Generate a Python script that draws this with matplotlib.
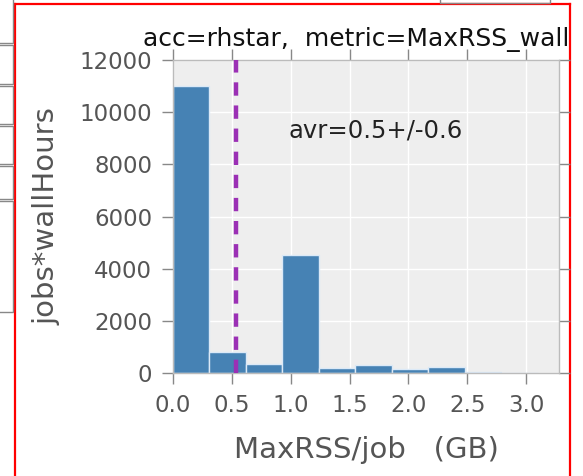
import matplotlib
matplotlib.use("Agg")
import matplotlib.pyplot as plt
from matplotlib.patches import Rectangle
import numpy as np

# Data
bin_edges = [0.0, 0.31, 0.62, 0.93, 1.24, 1.55, 1.86, 2.17, 2.48, 2.79, 3.10]
bin_heights = [11000, 820, 340, 4520, 180, 310, 140, 245, 55, 10]
mean_val = 0.533
title_text = "acc=rhstar,  metric=MaxRSS_wall"
note_text = "avr=0.5+/-0.6"
xticks = [0.0, 0.5, 1.0, 1.5, 2.0, 2.5, 3.0]
yticks = [0, 2000, 4000, 6000, 8000, 10000, 12000]

W, H = 583, 476
fig = plt.figure(figsize=(W / 100, H / 100), dpi=100)

def fx(px):
    return px / W

def fy(py):
    return 1 - py / H

# background frame axes (red border) used for clipping the title
frame = fig.add_axes([fx(15), 0.0, fx(570) - fx(15), fy(4)])
frame.set_xlim(0, 1)
frame.set_ylim(0, 1)
frame.set_xticks([])
frame.set_yticks([])
frame.patch.set_alpha(0)
for s in frame.spines.values():
    s.set_color("#ff0000")
    s.set_linewidth(1.6)
frame.spines["bottom"].set_visible(False)

# leftover boxes on the left edge
for (y0, y1) in [(-5, 43), (45, 84), (86, 124), (126, 164), (166, 199), (201, 312)]:
    r = Rectangle((fx(-20), fy(y1)), fx(33), fy(y0) - fy(y1), transform=fig.transFigure,
                  fill=False, edgecolor="#888888", linewidth=1.0)
    fig.patches.append(r)
r = Rectangle((fx(440), fy(3)), fx(110), fy(-10) - fy(3), transform=fig.transFigure,
              fill=False, edgecolor="#888888", linewidth=1.0)
fig.patches.append(r)

# main axes
ax = fig.add_axes([fx(173), fy(373), fx(559) - fx(173), fy(60) - fy(373)])
ax.set_facecolor("#eeeeee")
ax.set_axisbelow(True)
ax.grid(True, color="white", linewidth=1.0)

lefts = np.array(bin_edges[:-1])
widths = np.diff(bin_edges)
ax.bar(lefts, bin_heights, width=widths, align="edge", color="#4682b4",
       edgecolor="#dbe9f7", linewidth=1.0, zorder=2)
ax.axvline(mean_val, color="#9b30b5", linestyle=(0, (3, 2.2)), linewidth=3.2, zorder=3)

ax.set_xlim(0, 3.28)
ax.set_ylim(0, 12000)
ax.set_xticks(xticks)
ax.set_xticklabels([f"{t:.1f}" for t in xticks])
ax.set_yticks(yticks)
ax.tick_params(direction="out", length=8, width=1, color="#888888", pad=7,
               labelcolor="#555555", labelsize=16.5, top=True, right=True)
for s in ax.spines.values():
    s.set_color("#bbbbbb")
    s.set_linewidth(1.0)

ax.set_xlabel("MaxRSS/job   (GB)", fontsize=21, color="#555555", labelpad=14)
ax.set_ylabel("jobs*wallHours", fontsize=21, color="#555555", labelpad=14)

ax.text(0.98, 9300, note_text, fontsize=17.5, color="#222222", va="center", ha="left")

# title, clipped by the red frame
t = frame.text(fx(143 - 15) / (fx(570) - fx(15)), (fy(40)) / fy(4), title_text,
               fontsize=18, color="#111111", ha="left", va="center",
               transform=frame.transAxes, clip_on=True)

fig.savefig("out.png", dpi=100)
